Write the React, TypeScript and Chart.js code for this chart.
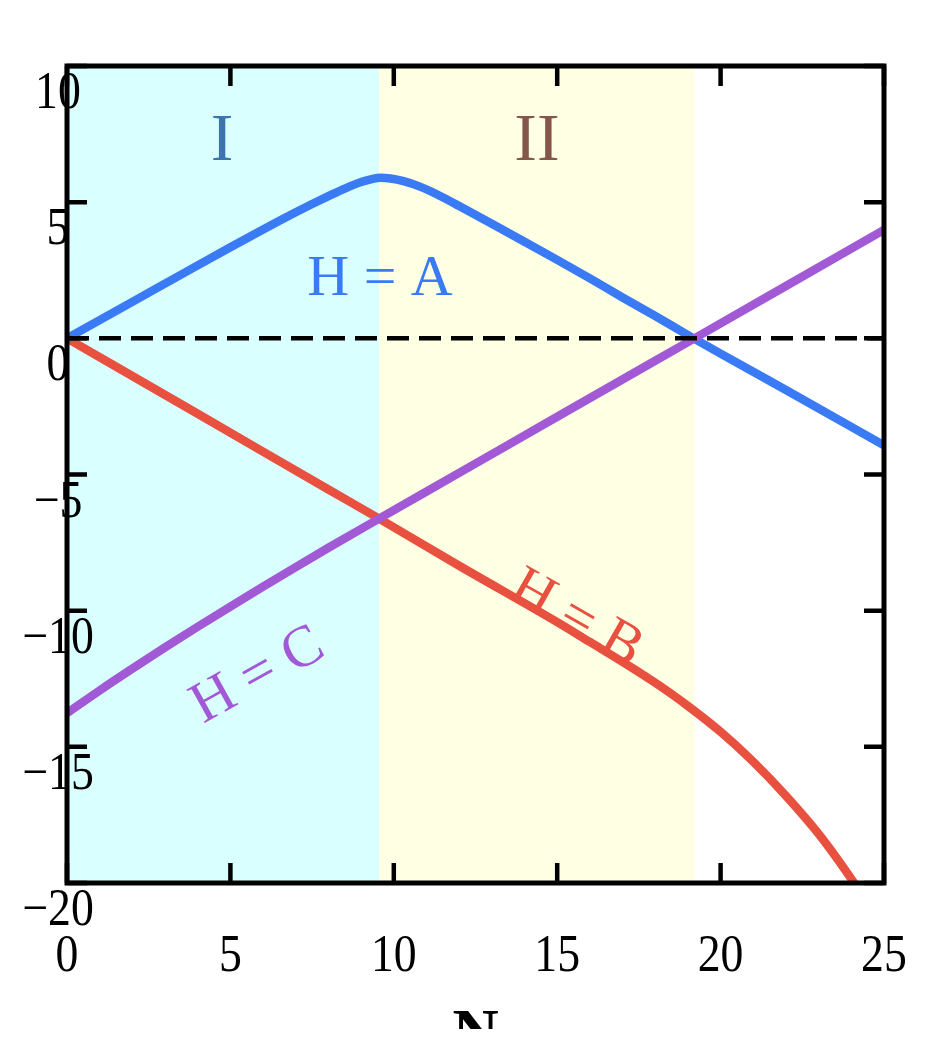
import React, { useEffect, useRef } from "react";
import { Chart, registerables } from "chart.js";

Chart.register(...registerables);

// ---- data ----
const xTicks = [0, 5, 10, 15, 20, 25];
const yTicks = [10, 5, 0, -5, -10, -15, -20];
const yTickLabels = ["10", "5", "0", "\u22125", "\u221210", "\u221215", "\u221220"];
const xTickLabels = ["0", "5", "10", "15", "20", "25"];

const regionBounds = [0, 9.55, 19.2];
const regionLabels = ["I", "II"];

const blueN = [0, 2, 4, 5, 6, 6.5, 7, 7.5, 8, 8.5, 9, 9.3, 9.6, 9.9, 10.3, 10.8, 11.3, 12, 13, 14, 15, 16, 17, 18, 19, 20, 22, 25];
const blueH = [0, 1.34, 2.68, 3.345, 4.0, 4.32, 4.63, 4.93, 5.22, 5.5, 5.74, 5.84, 5.9, 5.87, 5.77, 5.57, 5.3, 4.86, 4.21, 3.55, 2.88, 2.2, 1.5, 0.82, 0.12, -0.56, -1.9, -3.93];

const redN = [0, 4, 8, 9.55, 12, 15, 16, 17, 18, 19, 20, 21, 22, 23, 24, 24.3];
const redH = [0, -2.77, -5.55, -6.62, -8.35, -10.42, -11.15, -11.88, -12.65, -13.5, -14.45, -15.55, -16.8, -18.2, -19.85, -20.4];

const purpleN = [0, 1, 2, 3, 4, 5, 6, 7, 8, 9.55, 12, 15, 19.2, 22, 25];
const purpleH = [-13.76, -12.93, -12.13, -11.35, -10.59, -9.85, -9.12, -8.4, -7.69, -6.62, -4.94, -2.88, 0, 1.92, 3.98];

const zeroN = [0, 25];
const zeroH = [0, 0];

const SERIF = '"Liberation Serif", "Times New Roman", "DejaVu Serif", serif';

const toPts = (xs: number[], ys: number[]) => xs.map((x, i) => ({ x, y: ys[i] }));

const decorations = {
  id: "decorations",
  beforeDatasetsDraw(chart: any) {
    const { ctx, chartArea } = chart;
    const xs = chart.scales.x;
    const colors = ["#d9ffff", "#ffffe3"];
    ctx.save();
    for (let i = 0; i < regionBounds.length - 1; i++) {
      const a = xs.getPixelForValue(regionBounds[i]);
      const b = xs.getPixelForValue(regionBounds[i + 1]);
      ctx.fillStyle = colors[i];
      ctx.fillRect(a, chartArea.top, b - a, chartArea.bottom - chartArea.top);
    }
    ctx.restore();
  },
  afterDatasetsDraw(chart: any) {
    const { ctx } = chart;
    ctx.save();
    ctx.textAlign = "center";
    ctx.textBaseline = "alphabetic";
    ctx.font = `68px ${SERIF}`;
    ctx.fillStyle = "#3d74ad";
    ctx.fillText(regionLabels[0], 222, 160);
    ctx.fillStyle = "#85574a";
    ctx.fillText(regionLabels[1], 537, 160);

    ctx.font = `58px ${SERIF}`;
    ctx.fillStyle = "#3a7bf5";
    ctx.fillText("H = A", 380, 295);

    ctx.textBaseline = "middle";
    ctx.save();
    ctx.translate(576, 619);
    ctx.rotate((29.5 * Math.PI) / 180);
    ctx.fillStyle = "#e8503f";
    ctx.fillText("H = B", 0, 0);
    ctx.restore();

    ctx.save();
    ctx.translate(258, 676);
    ctx.rotate((-29 * Math.PI) / 180);
    ctx.fillStyle = "#a259d6";
    ctx.fillText("H = C", 0, 0);
    ctx.restore();
    ctx.restore();
  },
  afterDraw(chart: any) {
    const { ctx, chartArea } = chart;
    const xs = chart.scales.x;
    const ys = chart.scales.y;
    const { left, right, top, bottom } = chartArea;
    ctx.save();
    ctx.strokeStyle = "#000";
    ctx.lineWidth = 5;
    ctx.setLineDash([]);
    ctx.strokeRect(left, top, right - left, bottom - top);
    const tl = 20;
    ctx.lineWidth = 4.5;
    ctx.beginPath();
    xTicks.forEach((v) => {
      const px = xs.getPixelForValue(v);
      ctx.moveTo(px, bottom);
      ctx.lineTo(px, bottom - tl);
      ctx.moveTo(px, top);
      ctx.lineTo(px, top + tl);
    });
    yTicks.forEach((v) => {
      const py = ys.getPixelForValue(v);
      ctx.moveTo(left, py);
      ctx.lineTo(left + tl, py);
      ctx.moveTo(right, py);
      ctx.lineTo(right - tl, py);
    });
    ctx.stroke();

    // tick labels
    ctx.fillStyle = "#000";
    ctx.font = `52px ${SERIF}`;
    ctx.textAlign = "center";
    ctx.textBaseline = "alphabetic";
    const sx = 0.88;
    yTicks.forEach((v, i) => {
      const py = ys.getPixelForValue(v);
      ctx.save();
      ctx.translate(58, py + 42);
      ctx.scale(sx, 1);
      ctx.fillText(yTickLabels[i], 0, 0);
      ctx.restore();
    });
    xTicks.forEach((v, i) => {
      const px = xs.getPixelForValue(v);
      ctx.save();
      ctx.translate(px, 971);
      ctx.scale(sx, 1);
      ctx.fillText(xTickLabels[i], 0, 0);
      ctx.restore();
    });

    // axis title, cut off at the bottom as in the reference
    ctx.save();
    ctx.beginPath();
    ctx.rect(0, 0, chart.width, 1029);
    ctx.clip();
    ctx.font = `bold 64px ${SERIF}`;
    ctx.textBaseline = "top";
    ctx.fillText("N", (left + right) / 2, 1004);
    ctx.restore();
    ctx.restore();
  },
};

export default function App() {
  const ref = useRef<HTMLCanvasElement | null>(null);
  useEffect(() => {
    if (!ref.current) return;
    const chart = new Chart(ref.current, {
      type: "line",
      data: {
        datasets: [
          {
            data: toPts(zeroN, zeroH),
            borderColor: "#000",
            borderWidth: 4.5,
            borderDash: [22, 10],
            pointRadius: 0,
            order: 0,
            clip: 0 as any,
          },
          {
            data: toPts(purpleN, purpleH),
            borderColor: "#a259d6",
            borderWidth: 8.5,
            pointRadius: 0,
            cubicInterpolationMode: "monotone",
            order: 1,
            clip: 0 as any,
          },
          {
            data: toPts(blueN, blueH),
            borderColor: "#3a7bf5",
            borderWidth: 8.5,
            pointRadius: 0,
            cubicInterpolationMode: "monotone",
            order: 2,
            clip: 0 as any,
          },
          {
            data: toPts(redN, redH),
            borderColor: "#e8503f",
            borderWidth: 8.5,
            pointRadius: 0,
            cubicInterpolationMode: "monotone",
            order: 3,
            clip: 0 as any,
          },
        ],
      },
      options: {
        responsive: false,
        animation: false,
        layout: { padding: { left: 67, top: 66, right: 64, bottom: 179 } },
        plugins: { legend: { display: false }, tooltip: { enabled: false } },
        scales: {
          x: { type: "linear", min: 0, max: 25, display: false },
          y: { type: "linear", min: -20, max: 10, display: false },
        },
      },
      plugins: [decorations],
    });
    return () => chart.destroy();
  }, []);
  return (
    <div style={{ position: "fixed", left: 0, top: 0, width: 948, height: 1062, background: "#fff" }}>
      <canvas ref={ref} width={948} height={1062} style={{ display: "block", width: 948, height: 1062 }} />
    </div>
  );
}
